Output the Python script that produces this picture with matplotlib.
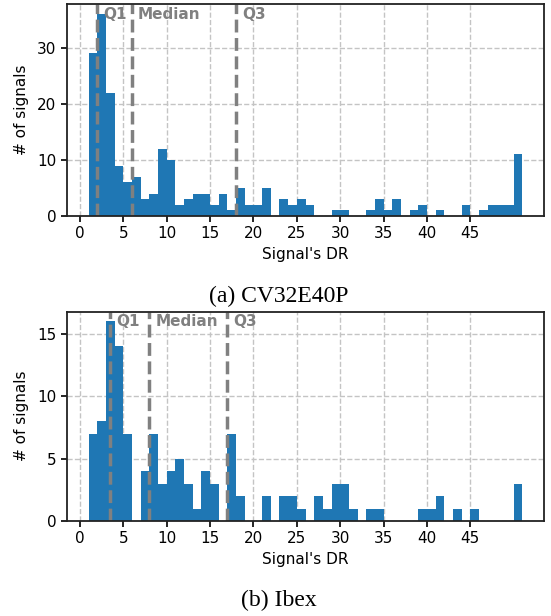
import numpy as np
import matplotlib
matplotlib.use("Agg")
import matplotlib.pyplot as plt

# DR values 1..50 (histogram bins of width 1)
dr_values = list(range(1, 51))

counts_cv32 = [29, 36, 22, 9, 6, 7, 3, 4, 12, 10,
               2, 3, 4, 4, 2, 4, 1, 5, 2, 2,
               5, 0, 3, 2, 3, 2, 0, 0, 1, 1,
               0, 0, 1, 3, 1, 3, 0, 1, 2, 0,
               1, 0, 0, 2, 0, 1, 2, 2, 2, 11]

counts_ibex = [7, 8, 16, 14, 7, 0, 4, 7, 3, 4,
               5, 3, 1, 4, 3, 0, 7, 2, 0, 0,
               2, 0, 2, 2, 1, 0, 2, 1, 3, 3,
               1, 0, 1, 1, 0, 0, 0, 0, 1, 1,
               2, 0, 1, 0, 1, 0, 0, 0, 0, 3]

xticks = list(range(0, 50, 5))
captions = ["(a) CV32E40P", "(b) Ibex"]
q_names = ["Q1", "Median", "Q3"]

W, H = 551, 616
fig = plt.figure(figsize=(W / 100, H / 100), dpi=100)

# axes boxes in pixels: left, top, right, bottom
boxes = [(67, 4, 544, 216), (67, 311.5, 544, 521)]
cap_y = [296, 600]

for counts, box, cap, cy in zip([counts_cv32, counts_ibex], boxes, captions, cap_y):
    l, t, r, b = box
    ax = fig.add_axes([l / W, 1 - b / H, (r - l) / W, (b - t) / H])
    ax.hist(dr_values, bins=np.arange(1, 52), weights=counts, color="#1f77b4")
    ax.set_axisbelow(True)
    ax.grid(True, linestyle="--", color="#c4c4c4", linewidth=1.0)
    ax.set_xticks(xticks)
    ax.tick_params(labelsize=11, length=4, width=1.2)
    for s in ax.spines.values():
        s.set_linewidth(1.3)
        s.set_color("#222222")
    ax.set_xlabel("Signal's DR", fontsize=11, labelpad=4)
    ax.set_ylabel("# of signals", fontsize=11, labelpad=6)

    samples = np.repeat(dr_values, counts)
    qs = np.percentile(samples, [25, 50, 75])
    ymax = max(counts)
    for q, name in zip(qs, q_names):
        ax.axvline(q, color="gray", linestyle="--", linewidth=2.5)
        ax.text(q + 0.7, ymax, name, color="gray", fontweight="bold",
                fontsize=11, va="center", ha="left")

    fig.text(279 / W, 1 - cy / H, cap, ha="center", va="center",
             fontsize=17, family="Liberation Serif")

fig.savefig("out.png", dpi=100)
